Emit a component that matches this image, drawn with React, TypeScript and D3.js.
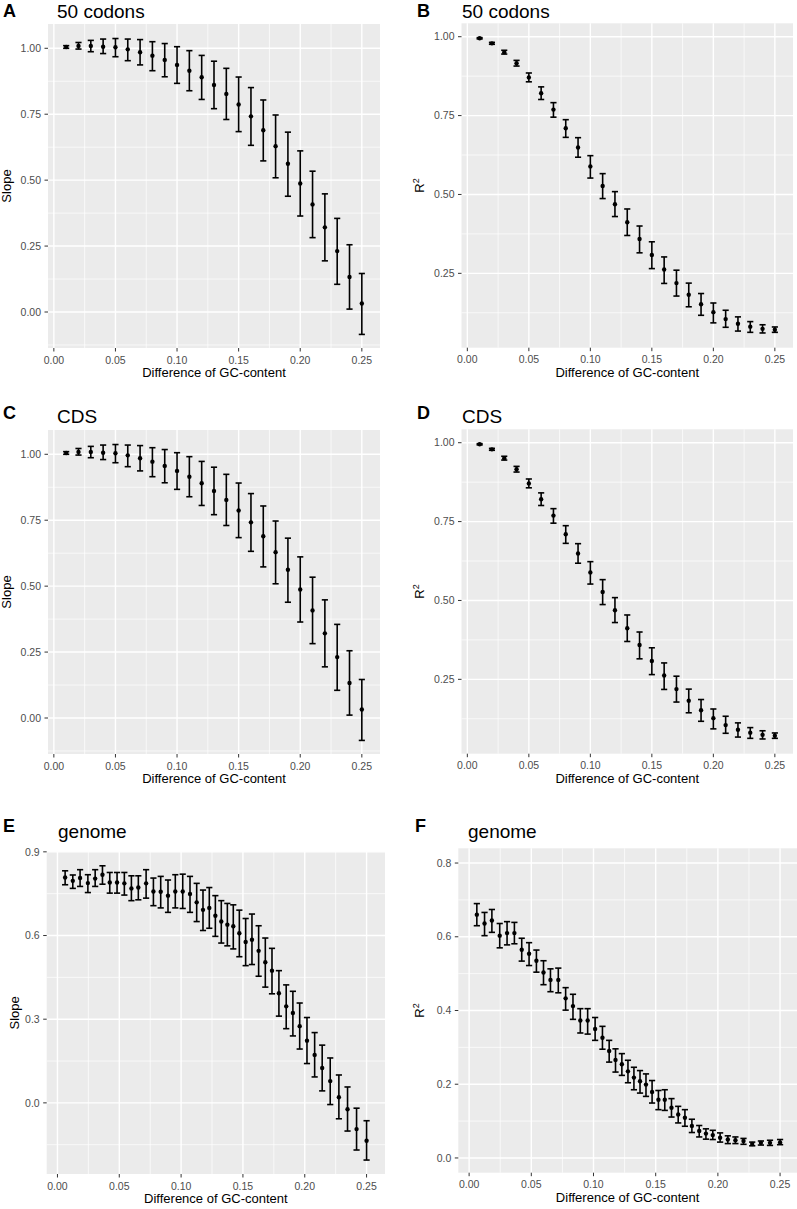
import * as d3 from "d3";

// 50 codons / CDS (panels A-D share the same values)
const codonX = [0.01, 0.02, 0.03, 0.04, 0.05, 0.06, 0.07, 0.08, 0.09, 0.1, 0.11, 0.12, 0.13, 0.14, 0.15, 0.16, 0.17, 0.18, 0.19, 0.2, 0.21, 0.22, 0.23, 0.24, 0.25];
const slopeMean = [1.005, 1.009, 1.009, 1.006, 1.004, 0.996, 0.985, 0.972, 0.956, 0.937, 0.915, 0.89, 0.861, 0.827, 0.787, 0.742, 0.689, 0.629, 0.562, 0.487, 0.408, 0.321, 0.231, 0.133, 0.032];
const slopeLo = [1.0, 0.997, 0.987, 0.98, 0.968, 0.953, 0.937, 0.915, 0.892, 0.867, 0.839, 0.806, 0.771, 0.73, 0.684, 0.632, 0.573, 0.509, 0.439, 0.364, 0.282, 0.194, 0.105, 0.011, -0.085];
const slopeHi = [1.01, 1.022, 1.03, 1.035, 1.037, 1.035, 1.033, 1.025, 1.018, 1.006, 0.991, 0.973, 0.951, 0.924, 0.891, 0.851, 0.804, 0.747, 0.682, 0.611, 0.534, 0.448, 0.355, 0.255, 0.146];
const r2Mean = [0.995, 0.979, 0.951, 0.916, 0.871, 0.821, 0.769, 0.71, 0.649, 0.589, 0.527, 0.469, 0.412, 0.359, 0.308, 0.262, 0.219, 0.182, 0.152, 0.127, 0.105, 0.09, 0.081, 0.074, 0.071];
const r2Lo = [0.993, 0.976, 0.945, 0.907, 0.857, 0.801, 0.745, 0.681, 0.618, 0.552, 0.487, 0.43, 0.37, 0.315, 0.265, 0.218, 0.178, 0.144, 0.117, 0.093, 0.079, 0.067, 0.063, 0.061, 0.063];
const r2Hi = [0.997, 0.982, 0.957, 0.925, 0.885, 0.841, 0.791, 0.737, 0.68, 0.623, 0.566, 0.509, 0.454, 0.4, 0.35, 0.302, 0.26, 0.219, 0.186, 0.156, 0.133, 0.112, 0.097, 0.087, 0.08];

// genome (panels E, F)
const genomeX = [0.0062, 0.0124, 0.0183, 0.0246, 0.0305, 0.0364, 0.0423, 0.0482, 0.0541, 0.0598, 0.0654, 0.0717, 0.0776, 0.0835, 0.0894, 0.0953, 0.1013, 0.1072, 0.1126, 0.1177, 0.1228, 0.1277, 0.1325, 0.1374, 0.1422, 0.1471, 0.1522, 0.1573, 0.1627, 0.1681, 0.1735, 0.1791, 0.185, 0.1904, 0.1959, 0.2018, 0.208, 0.2141, 0.2206, 0.2276, 0.2346, 0.2419, 0.25];
const gSlopeMean = [0.808, 0.796, 0.806, 0.788, 0.804, 0.818, 0.79, 0.79, 0.787, 0.769, 0.772, 0.787, 0.758, 0.757, 0.743, 0.758, 0.758, 0.749, 0.719, 0.692, 0.699, 0.671, 0.65, 0.639, 0.633, 0.608, 0.577, 0.585, 0.545, 0.504, 0.474, 0.393, 0.346, 0.322, 0.275, 0.223, 0.172, 0.125, 0.078, 0.02, -0.023, -0.094, -0.136];
const gSlopeLo = [0.782, 0.769, 0.776, 0.754, 0.776, 0.784, 0.752, 0.752, 0.745, 0.725, 0.728, 0.734, 0.707, 0.699, 0.683, 0.699, 0.697, 0.683, 0.65, 0.618, 0.626, 0.597, 0.573, 0.563, 0.552, 0.524, 0.492, 0.496, 0.454, 0.415, 0.391, 0.311, 0.266, 0.24, 0.193, 0.141, 0.093, 0.043, -0.006, -0.057, -0.101, -0.169, -0.205];
const gSlopeHi = [0.832, 0.817, 0.836, 0.818, 0.836, 0.85, 0.826, 0.826, 0.826, 0.814, 0.814, 0.836, 0.806, 0.812, 0.799, 0.818, 0.82, 0.812, 0.787, 0.763, 0.772, 0.743, 0.725, 0.715, 0.71, 0.691, 0.661, 0.677, 0.635, 0.591, 0.554, 0.474, 0.423, 0.4, 0.358, 0.306, 0.252, 0.207, 0.161, 0.1, 0.057, -0.019, -0.064];
const gR2Mean = [0.66, 0.636, 0.644, 0.603, 0.61, 0.61, 0.565, 0.554, 0.535, 0.503, 0.483, 0.483, 0.433, 0.412, 0.373, 0.373, 0.35, 0.326, 0.29, 0.266, 0.254, 0.235, 0.218, 0.208, 0.199, 0.179, 0.158, 0.158, 0.136, 0.118, 0.109, 0.087, 0.073, 0.066, 0.062, 0.055, 0.05, 0.048, 0.046, 0.038, 0.041, 0.041, 0.042];
const gR2Lo = [0.63, 0.603, 0.612, 0.57, 0.578, 0.581, 0.534, 0.522, 0.504, 0.47, 0.451, 0.448, 0.401, 0.376, 0.339, 0.336, 0.319, 0.295, 0.26, 0.233, 0.224, 0.204, 0.185, 0.176, 0.167, 0.149, 0.131, 0.129, 0.111, 0.095, 0.086, 0.069, 0.057, 0.051, 0.05, 0.043, 0.039, 0.039, 0.037, 0.033, 0.035, 0.034, 0.036];
const gR2Hi = [0.69, 0.666, 0.674, 0.636, 0.641, 0.639, 0.596, 0.584, 0.564, 0.535, 0.513, 0.515, 0.462, 0.444, 0.405, 0.405, 0.381, 0.357, 0.319, 0.296, 0.283, 0.265, 0.246, 0.237, 0.228, 0.21, 0.183, 0.185, 0.161, 0.14, 0.131, 0.105, 0.088, 0.079, 0.075, 0.068, 0.06, 0.057, 0.053, 0.043, 0.046, 0.048, 0.05];

const xTicks = [0, 0.05, 0.1, 0.15, 0.2, 0.25];
const xMinor = [0.025, 0.075, 0.125, 0.175, 0.225];
const slopeTicks = [0, 0.25, 0.5, 0.75, 1];
const slopeMinor = [-0.125, 0.125, 0.375, 0.625, 0.875];
const r2Ticks = [0.25, 0.5, 0.75, 1];
const r2Minor = [0.125, 0.375, 0.625, 0.875];
const gSlopeTicks = [0, 0.3, 0.6, 0.9];
const gSlopeMinor = [-0.15, 0.15, 0.45, 0.75];
const gR2Ticks = [0, 0.2, 0.4, 0.6, 0.8];
const gR2Minor = [0.1, 0.3, 0.5, 0.7];

const FONT = "'Liberation Sans', Arial, Helvetica, sans-serif";

type PanelProps = {
  letter: string;
  title: string;
  letterPos: [number, number];
  titlePos: [number, number];
  box: [number, number, number, number]; // x0, y0, x1, y1
  xDomain: [number, number];
  yDomain: [number, number];
  yTicks: number[];
  yMinor: number[];
  yFmt: string;
  yTitle: "Slope" | "R2";
  yTitleX: number;
  xs: number[];
  mean: number[];
  lo: number[];
  hi: number[];
};

function Panel(p: PanelProps) {
  const [x0, y0, x1, y1] = p.box;
  const x = d3.scaleLinear().domain(p.xDomain).range([x0, x1]);
  const y = d3.scaleLinear().domain(p.yDomain).range([y1, y0]);
  const fmtX = d3.format(".2f");
  const fmtY = d3.format(p.yFmt);
  const capW = 0.0025;
  const midY = (y0 + y1) / 2;
  return (
    <g>
      <text x={p.letterPos[0]} y={p.letterPos[1]} fontFamily={FONT} fontWeight="bold" fontSize={18}>{p.letter}</text>
      <text x={p.titlePos[0]} y={p.titlePos[1]} fontFamily={FONT} fontSize={19}>{p.title}</text>
      <rect x={x0} y={y0} width={x1 - x0} height={y1 - y0} fill="#EBEBEB" />
      {xMinor.map((v) => (
        <line key={"xm" + v} x1={x(v)} x2={x(v)} y1={y0} y2={y1} stroke="#fff" strokeWidth={0.7} />
      ))}
      {p.yMinor.map((v) => (
        <line key={"ym" + v} x1={x0} x2={x1} y1={y(v)} y2={y(v)} stroke="#fff" strokeWidth={0.7} />
      ))}
      {xTicks.map((v) => (
        <line key={"xg" + v} x1={x(v)} x2={x(v)} y1={y0} y2={y1} stroke="#fff" strokeWidth={1.4} />
      ))}
      {p.yTicks.map((v) => (
        <line key={"yg" + v} x1={x0} x2={x1} y1={y(v)} y2={y(v)} stroke="#fff" strokeWidth={1.4} />
      ))}
      {p.xs.map((v, i) => (
        <g key={"e" + i} stroke="#000" strokeWidth={1.6}>
          <line x1={x(v)} x2={x(v)} y1={y(p.lo[i])} y2={y(p.hi[i])} />
          <line x1={x(v - capW)} x2={x(v + capW)} y1={y(p.lo[i])} y2={y(p.lo[i])} />
          <line x1={x(v - capW)} x2={x(v + capW)} y1={y(p.hi[i])} y2={y(p.hi[i])} />
        </g>
      ))}
      {p.xs.map((v, i) => (
        <circle key={"p" + i} cx={x(v)} cy={y(p.mean[i])} r={2.2} fill="#000" />
      ))}
      {xTicks.map((v) => (
        <g key={"xt" + v}>
          <line x1={x(v)} x2={x(v)} y1={y1} y2={y1 + 3.5} stroke="#333" strokeWidth={1} />
          <text x={x(v)} y={y1 + 15.5} textAnchor="middle" fontFamily={FONT} fontSize={10.5} fill="#4D4D4D">{fmtX(v)}</text>
        </g>
      ))}
      {p.yTicks.map((v) => (
        <g key={"yt" + v}>
          <line x1={x0 - 3.5} x2={x0} y1={y(v)} y2={y(v)} stroke="#333" strokeWidth={1} />
          <text x={x0 - 7} y={y(v) + 3.7} textAnchor="end" fontFamily={FONT} fontSize={10.5} fill="#4D4D4D">{fmtY(v)}</text>
        </g>
      ))}
      <text x={(x0 + Math.min(x1, 797)) / 2} y={y1 + 29} textAnchor="middle" fontFamily={FONT} fontSize={13}>Difference of GC-content</text>
      <text transform={`translate(${p.yTitleX},${midY}) rotate(-90)`} textAnchor="middle" fontFamily={FONT} fontSize={13}>
        {p.yTitle === "Slope" ? "Slope" : (<>R<tspan fontSize={9} dy={-5}>2</tspan></>)}
      </text>
    </g>
  );
}

export default function App() {
  const codonDom: [number, number] = [-0.00475, 0.26475];
  const genomeDom: [number, number] = [-0.0087, 0.2649];
  const dy = 406;
  return (
    <svg width={797} height={1209} style={{ position: "absolute", left: 0, top: 0, background: "#fff" }}>
      <Panel letter="A" title="50 codons" letterPos={[3, 16.5]} titlePos={[57, 17.5]} box={[48, 24, 380, 348]}
        xDomain={codonDom} yDomain={[-0.1365, 1.0921]} yTicks={slopeTicks} yMinor={slopeMinor} yFmt=".2f"
        yTitle="Slope" yTitleX={11} xs={codonX} mean={slopeMean} lo={slopeLo} hi={slopeHi} />
      <Panel letter="B" title="50 codons" letterPos={[417, 16.5]} titlePos={[462, 17.5]} box={[461.5, 23.3, 793, 347.7]}
        xDomain={codonDom} yDomain={[0.0143, 1.0425]} yTicks={r2Ticks} yMinor={r2Minor} yFmt=".2f"
        yTitle="R2" yTitleX={424} xs={codonX} mean={r2Mean} lo={r2Lo} hi={r2Hi} />
      <Panel letter="C" title="CDS" letterPos={[3, 419]} titlePos={[57, 423]} box={[48, 24 + dy, 380, 348 + dy]}
        xDomain={codonDom} yDomain={[-0.1365, 1.0921]} yTicks={slopeTicks} yMinor={slopeMinor} yFmt=".2f"
        yTitle="Slope" yTitleX={11} xs={codonX} mean={slopeMean} lo={slopeLo} hi={slopeHi} />
      <Panel letter="D" title="CDS" letterPos={[417, 419]} titlePos={[462, 423]} box={[461.5, 23.3 + dy, 793, 347.7 + dy]}
        xDomain={codonDom} yDomain={[0.0143, 1.0425]} yTicks={r2Ticks} yMinor={r2Minor} yFmt=".2f"
        yTitle="R2" yTitleX={424} xs={codonX} mean={r2Mean} lo={r2Lo} hi={r2Hi} />
      <Panel letter="E" title="genome" letterPos={[3, 832]} titlePos={[58, 838]} box={[46.7, 851.7, 385, 1174]}
        xDomain={genomeDom} yDomain={[-0.255, 0.9005]} yTicks={gSlopeTicks} yMinor={gSlopeMinor} yFmt=".1f"
        yTitle="Slope" yTitleX={19} xs={genomeX} mean={gSlopeMean} lo={gSlopeLo} hi={gSlopeHi} />
      <Panel letter="F" title="genome" letterPos={[415, 832]} titlePos={[468, 838]} box={[458.3, 848.3, 798.6, 1172.7]}
        xDomain={genomeDom} yDomain={[-0.04, 0.84]} yTicks={gR2Ticks} yMinor={gR2Minor} yFmt=".1f"
        yTitle="R2" yTitleX={424} xs={genomeX} mean={gR2Mean} lo={gR2Lo} hi={gR2Hi} />
    </svg>
  );
}
